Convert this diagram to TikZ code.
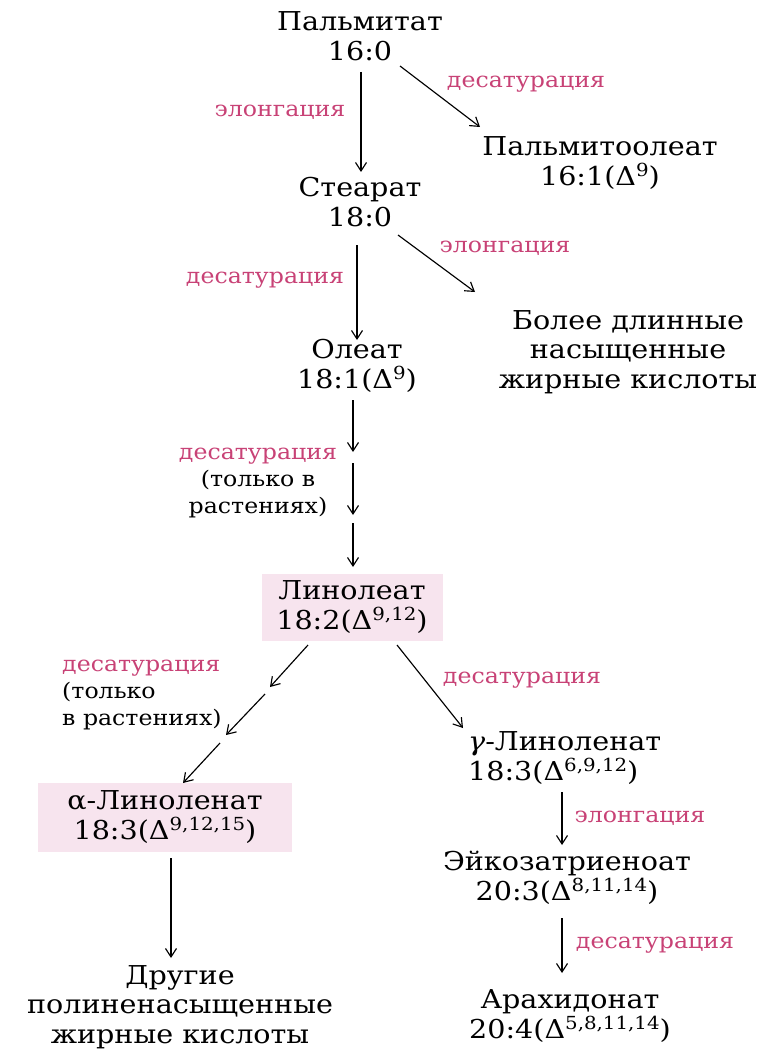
\documentclass[tikz,border=0pt]{standalone}
\usepackage{fontspec}
\setmainfont{DejaVu Serif}[FakeStretch=1.1]
\usetikzlibrary{arrows.meta,calc}
\definecolor{labpink}{RGB}{200,66,118}
\definecolor{boxpink}{RGB}{247,228,238}
\newcommand\NodeFont{\fontsize{26}{29.5}\selectfont}
\newcommand\LabFont{\fontsize{21.5}{27}\selectfont}
\newcommand\SupTxt[1]{\raisebox{0.34em}{\fontsize{18}{18}\selectfont #1}}
\tikzset{
  txt/.style={inner sep=0pt, align=center, font=\NodeFont},
  hl/.style={txt, fill=boxpink, inner sep=0pt},
  lab/.style={inner sep=0pt, align=center, font=\LabFont, text=labpink},
  note/.style={inner sep=0pt, font=\LabFont, text=black},
  arr/.style={line width=1.15pt, -{Straight Barb[length=8.5pt,width=11pt,line width=1.15pt]}}
}
\begin{document}
\begin{tikzpicture}[x=1pt,y=-1pt]
\useasboundingbox (0,0) rectangle (756,1051);
% nodes
\node[txt] (palm) at (360,36) {Пальмитат\\16:0};
\node[txt] (palmo) at (600,163) {Пальмитоолеат\\16:1(Δ\SupTxt{9})};
\node[txt] (stear) at (360,202) {Стеарат\\18:0};
\node[txt] (longer) at (628,352) {Более длинные\\насыщенные\\жирные кислоты};
\node[txt] (oleat) at (357,366) {Олеат\\18:1(Δ\SupTxt{9})};
\node[hl, minimum width=181pt, minimum height=67pt] (lino) at (352,607) {Линолеат\\18:2(Δ\SupTxt{9,12})};
\node[hl, minimum width=254pt, minimum height=69pt] (alpha) at (165,817) {α-Линоленат\\18:3(Δ\SupTxt{9,12,15})};
\node[txt, align=left, anchor=west] (gamma) at (468,758) {\textit{γ}-Линоленат\\18:3(Δ\SupTxt{6,9,12})};
\node[txt] (eico) at (567,878) {Эйкозатриеноат\\20:3(Δ\SupTxt{8,11,14})};
\node[txt] (arach) at (570,1016) {Арахидонат\\20:4(Δ\SupTxt{5,8,11,14})};
\node[txt] (other) at (180,1007) {Другие\\полиненасыщенные\\жирные кислоты};
% labels
\node[lab] (l1) at (526,84) {десатурация};
\node[lab] (l2) at (280,112) {элонгация};
\node[lab] (l3) at (265,280) {десатурация};
\node[lab] (l4) at (505,248) {элонгация};
\node[note, align=center] (l5) at (258,483) {\textcolor{labpink}{десатурация}\\(только в\\растениях)};
\node[note, align=left, anchor=west] (l6) at (62,695) {\textcolor{labpink}{десатурация}\\(только\\в растениях)};
\node[lab] (l7) at (522,680) {десатурация};
\node[lab] (l8) at (640,818) {элонгация};
\node[lab] (l9) at (655,945) {десатурация};
% intermediate points
\coordinate (oa) at (353,452);
\coordinate (ob) at (353,463);
\coordinate (oc) at (353,515);
\coordinate (od) at (353,523);
\coordinate (la) at (270,687);
\coordinate (lb) at (265,694);
\coordinate (lc) at (226,735);
\coordinate (ld) at (220,743);
% connectors
\draw[arr] ($(palm)+(1,36)$) -- ($(stear)+(1,-30)$);
\draw[arr] ($(palm)+(40,30)$) -- ($(palmo)+(-120,-36)$);
\draw[arr] ($(stear)+(-3,43)$) -- ($(oleat)+(0,-26)$);
\draw[arr] ($(stear)+(38,33)$) -- ($(longer)+(-153,-60)$);
\draw[arr] ($(oleat)+(-4,34)$) -- (oa);
\draw[arr] (ob) -- (oc);
\draw[arr] (od) -- ($(lino)+(1,-40)$);
\draw[arr] ($(lino)+(-44,38)$) -- (la);
\draw[arr] (lb) -- (lc);
\draw[arr] (ld) -- ($(alpha)+(18,-34)$);
\draw[arr] ($(lino)+(45,38)$) -- ($(gamma.west)+(-5,-30)$);
\draw[arr] ($(eico)+(-5,-86)$) -- ($(eico)+(-5,-33)$);
\draw[arr] ($(eico)+(-5,40)$) -- ($(arach)+(-8,-43)$);
\draw[arr] ($(alpha)+(6,41)$) -- ($(other)+(-9,-49)$);
\end{tikzpicture}
\end{document}
